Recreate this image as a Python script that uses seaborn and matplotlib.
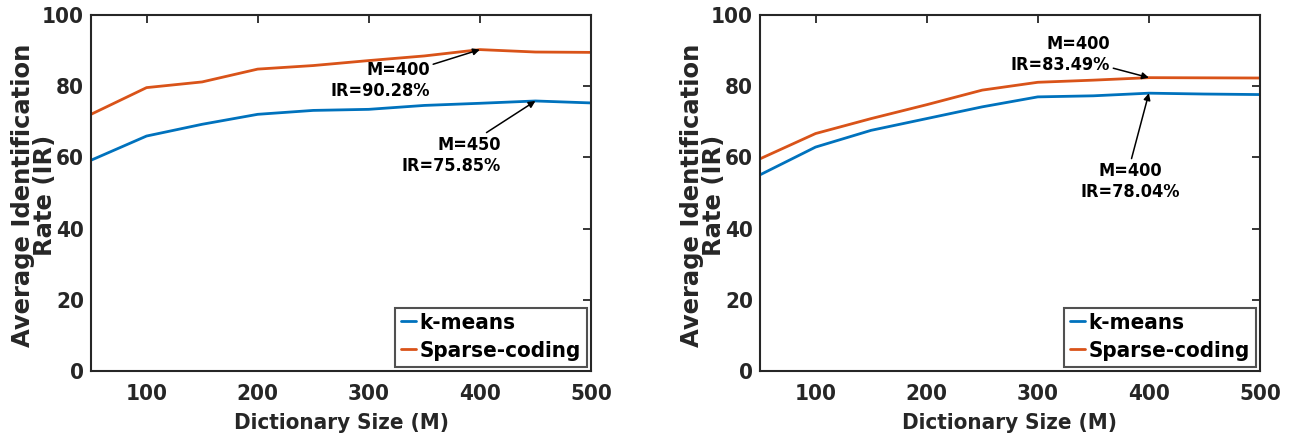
import numpy as np
import pandas as pd
import matplotlib
matplotlib.use("Agg")
import matplotlib.pyplot as plt
import seaborn as sns

# ---- data ----
dict_sizes = [50, 100, 150, 200, 250, 300, 350, 400, 450, 500]
left_kmeans = [59.2, 66.0, 69.3, 72.1, 73.2, 73.5, 74.6, 75.2, 75.85, 75.3]
left_sparse = [72.1, 79.6, 81.2, 84.8, 85.8, 87.2, 88.5, 90.28, 89.6, 89.5]
right_kmeans = [55.1, 62.9, 67.6, 70.9, 74.2, 77.0, 77.3, 78.04, 77.8, 77.65]
right_sparse = [59.6, 66.7, 70.9, 74.8, 78.9, 81.1, 81.7, 82.4, 82.35, 82.3]
series_names = ["k-means", "Sparse-coding"]
x_ticks = [100, 200, 300, 400, 500]
y_ticks = [0, 20, 40, 60, 80, 100]
x_label = "Dictionary Size (M)"
y_label = "Average Identification\nRate (IR)"

colors = {"k-means": "#0072BD", "Sparse-coding": "#D95319"}
txt = "#262626"

sns.set_theme(style="white")
plt.rcParams["font.family"] = ["DejaVu Sans"]
plt.rcParams["font.weight"] = "bold"
plt.rcParams["font.stretch"] = "condensed"

fig = plt.figure(figsize=(13.12, 4.40), dpi=100)
ax1 = fig.add_axes([91 / 1312, 69 / 440, 500 / 1312, 356 / 440])
ax2 = fig.add_axes([760 / 1312, 69 / 440, 500 / 1312, 356 / 440])


def make_df(km, sp):
    return pd.DataFrame({
        "M": dict_sizes * 2,
        "IR": list(km) + list(sp),
        "method": [series_names[0]] * len(km) + [series_names[1]] * len(sp),
    })


for ax, km, sp in [(ax1, left_kmeans, left_sparse), (ax2, right_kmeans, right_sparse)]:
    df = make_df(km, sp)
    sns.lineplot(data=df, x="M", y="IR", hue="method", palette=colors,
                 linewidth=2, ax=ax, legend=True)
    ax.set_xlim(50, 500)
    ax.set_ylim(0, 100)
    ax.set_xticks(x_ticks)
    ax.set_yticks(y_ticks)
    ax.tick_params(axis="both", direction="in", length=6, width=1.3, colors=txt,
                   labelsize=16, top=True, right=True)
    ax.tick_params(axis="x", pad=9)
    ax.tick_params(axis="y", pad=5)
    for lab in ax.get_xticklabels() + ax.get_yticklabels():
        lab.set_fontweight("bold")
    ax.set_xlabel(x_label, fontsize=16, fontweight="bold", color=txt, labelpad=7)
    ax.set_ylabel(y_label, fontsize=17.5, fontweight="bold", color=txt,
                  linespacing=0.92, va="center", ha="center", fontstretch="normal")
    ax.yaxis.set_label_coords(-0.114, 0.493)
    for s in ax.spines.values():
        s.set_color(txt)
        s.set_linewidth(1.5)
    leg = ax.legend(loc="lower right", fontsize=16, frameon=True, handlelength=0.7,
                    handletextpad=0.15, borderpad=0.25, labelspacing=0.35,
                    borderaxespad=0.2, fancybox=False)
    leg.get_frame().set_edgecolor(txt)
    leg.get_frame().set_linewidth(1.5)
    for t in leg.get_texts():
        t.set_fontweight("bold")
        t.set_color("black")

arrow = dict(arrowstyle="-|>", color="black", lw=1.1, mutation_scale=10, shrinkA=0, shrinkB=0)
# left panel annotations
ax1.annotate("M=400\nIR=90.28%", xy=(400, 90.28), xytext=(355, 81.5),
             ha="right", va="center", fontsize=13, fontweight="bold", color="black",
             arrowprops=arrow, linespacing=1.2)
ax1.annotate("M=450\nIR=75.85%", xy=(450, 75.85), xytext=(419, 60.6),
             ha="right", va="center", fontsize=13, fontweight="bold", color="black",
             arrowprops=arrow, linespacing=1.2)
# right panel annotations
ax2.annotate("M=400\nIR=83.49%", xy=(400, 82.4), xytext=(365, 89.0),
             ha="right", va="center", fontsize=13, fontweight="bold", color="black",
             arrowprops=arrow, linespacing=1.2)
ax2.annotate("M=400\nIR=78.04%", xy=(400, 78.04), xytext=(383.6, 53.3),
             ha="center", va="center", fontsize=13, fontweight="bold", color="black",
             arrowprops=dict(arrow, relpos=(0.5, 1.0)), linespacing=1.2)

fig.savefig("out.png", dpi=100)
